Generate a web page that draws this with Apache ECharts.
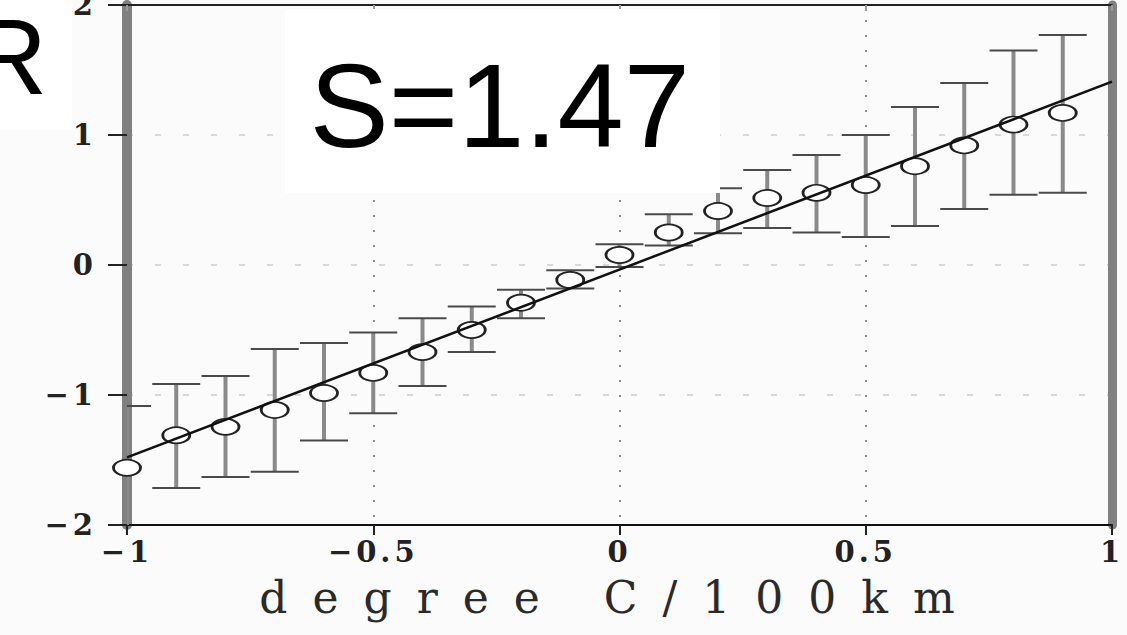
<!DOCTYPE html>
<html><head><meta charset="utf-8">
<script src="https://cdn.jsdelivr.net/npm/echarts@6/dist/echarts.min.js"></script>
<style>
html,body{margin:0;padding:0;background:#fbfbfb;}
#c{width:1127px;height:635px;}
#c svg text[style*="44px"]{letter-spacing:25px;}
#c svg text[style*="bold"][style*="DejaVu"]{letter-spacing:4px;}
</style></head><body><div id="c"></div>
<script>
// ---- data ----
const xValues     = [-1, -0.9, -0.8, -0.7, -0.6, -0.5, -0.4, -0.3, -0.2, -0.1, 0, 0.1, 0.2, 0.3, 0.4, 0.5, 0.6, 0.7, 0.8, 0.9];
const meanValues  = [-1.56, -1.31, -1.245, -1.115, -0.985, -0.83, -0.67, -0.50, -0.29, -0.115, 0.077, 0.25, 0.415, 0.515, 0.555, 0.615, 0.76, 0.92, 1.08, 1.17];
const upperValues = [-1.085, -0.915, -0.854, -0.646, -0.60, -0.52, -0.41, -0.32, -0.19, -0.04, 0.16, 0.39, 0.59, 0.73, 0.846, 1.0, 1.215, 1.40, 1.65, 1.77];
const lowerValues = [-2.04, -1.715, -1.63, -1.59, -1.35, -1.14, -0.93, -0.67, -0.41, -0.18, -0.015, 0.15, 0.245, 0.285, 0.25, 0.215, 0.30, 0.43, 0.54, 0.555];
const fitX = [-1, 1];
const fitY = [-1.48, 1.41];
const xTickValues = [-1, -0.5, 0, 0.5, 1];
const xTickLabels = ['−1', '−0.5', '0', '0.5', '1'];
const yTickValues = [-2, -1, 0, 1, 2];
const yTickLabels = ['−2', '−1', '0', '1', '2'];
const axisTitle = 'degree C/100km';
const panelLetter = 'R';
const slopeText = 'S=1.47';

function labelFor(values, labels) {
  return function (v) {
    for (let i = 0; i < values.length; i++) if (Math.abs(values[i] - v) < 1e-9) return labels[i];
    return '';
  };
}

const errData = xValues.map((x, i) => [x, lowerValues[i], upperValues[i]]);
const ptData = xValues.map((x, i) => [x, meanValues[i]]);
const fitData = fitX.map((x, i) => [x, fitY[i]]);

const chart = echarts.init(document.getElementById('c'), null, {renderer: 'svg'});
const tickFont = {fontFamily: 'DejaVu Serif', fontWeight: 'bold', fontSize: 29, color: '#222'};

chart.setOption({
  animation: false,
  backgroundColor: '#fbfbfb',
  grid: {left: 127, right: 15, top: 5, bottom: 110, containLabel: false, outerBoundsMode: 'none'},
  xAxis: [{
    type: 'value', min: -1, max: 1, interval: 0.5, position: 'bottom',
    axisLine: {onZero: false, lineStyle: {color: '#111', width: 2}},
    axisTick: {show: true, inside: false, length: 10, lineStyle: {color: '#222', width: 2}},
    axisLabel: Object.assign({margin: 12, formatter: labelFor(xTickValues, xTickLabels)}, tickFont),
    splitLine: {show: true, lineStyle: {color: '#8a8a8a', width: 2, type: [2, 13]}},
    name: axisTitle, nameLocation: 'middle', nameGap: 50,
    nameTextStyle: {fontFamily: 'DejaVu Serif', fontSize: 44, color: '#2a2a2a'}
  }, {
    type: 'value', min: -1, max: 1, interval: 0.5, position: 'top',
    axisLine: {onZero: false, lineStyle: {color: '#222', width: 2}},
    axisTick: {show: true, inside: true, length: 6, lineStyle: {color: '#999', width: 2}},
    axisLabel: {show: false}, splitLine: {show: false}
  }],
  yAxis: [{
    type: 'value', min: -2, max: 2, interval: 1, position: 'left',
    axisLine: {show: true, onZero: false, lineStyle: {color: '#808080', width: 10}},
    axisTick: {show: true, inside: false, length: 19, lineStyle: {color: '#222', width: 2}},
    axisLabel: Object.assign({margin: 30, formatter: labelFor(yTickValues, yTickLabels)}, tickFont),
    splitLine: {show: true, lineStyle: {color: '#d8d8d8', width: 2, type: [6, 22]}}
  }, {
    type: 'value', min: -2, max: 2, interval: 1, position: 'right',
    axisLine: {show: true, onZero: false, lineStyle: {color: '#808080', width: 9}},
    axisTick: {show: false}, axisLabel: {show: false}, splitLine: {show: false}
  }],
  series: [{
    type: 'custom', clip: true, z: 2,
    data: errData,
    renderItem: function (params, api) {
      const x = api.value(0), lo = api.value(1), hi = api.value(2);
      const t = api.coord([x, hi]);
      const b = api.coord([x, lo]);
      const hw = 24;
      return {type: 'group', children: [
        {type: 'line', shape: {x1: t[0], y1: t[1], x2: b[0], y2: b[1]}, style: {stroke: '#8a8a8a', lineWidth: 4}},
        {type: 'line', shape: {x1: t[0] - hw, y1: t[1], x2: t[0] + hw, y2: t[1]}, style: {stroke: '#4a4a4a', lineWidth: 2}},
        {type: 'line', shape: {x1: b[0] - hw, y1: b[1], x2: b[0] + hw, y2: b[1]}, style: {stroke: '#4a4a4a', lineWidth: 2}}
      ]};
    }
  }, {
    type: 'scatter', z: 3, data: ptData,
    symbol: 'circle', symbolSize: [27, 16],
    itemStyle: {color: '#ffffff', borderColor: '#222', borderWidth: 2.2, opacity: 1}
  }, {
    type: 'line', z: 5, data: fitData, showSymbol: false, symbol: 'none',
    lineStyle: {color: '#111', width: 2.5}
  }],
  graphic: [
    {type: 'rect', z: 50, shape: {x: 0, y: 0, width: 72, height: 130}, style: {fill: '#ffffff'}},
    {type: 'text', z: 51, x: -30, y: 57, style: {text: panelLetter, font: '107px "Liberation Sans"', fill: '#000', textAlign: 'left', textVerticalAlign: 'middle', verticalAlign: 'middle'}},
    {type: 'rect', z: 50, shape: {x: 285, y: 9, width: 435, height: 184}, style: {fill: '#ffffff'}},
    {type: 'text', z: 51, x: 309.5, y: 105, style: {text: slopeText, font: '119px "Liberation Sans"', fill: '#000', textAlign: 'left', textVerticalAlign: 'middle', verticalAlign: 'middle'}}
  ]
});
</script></body></html>
